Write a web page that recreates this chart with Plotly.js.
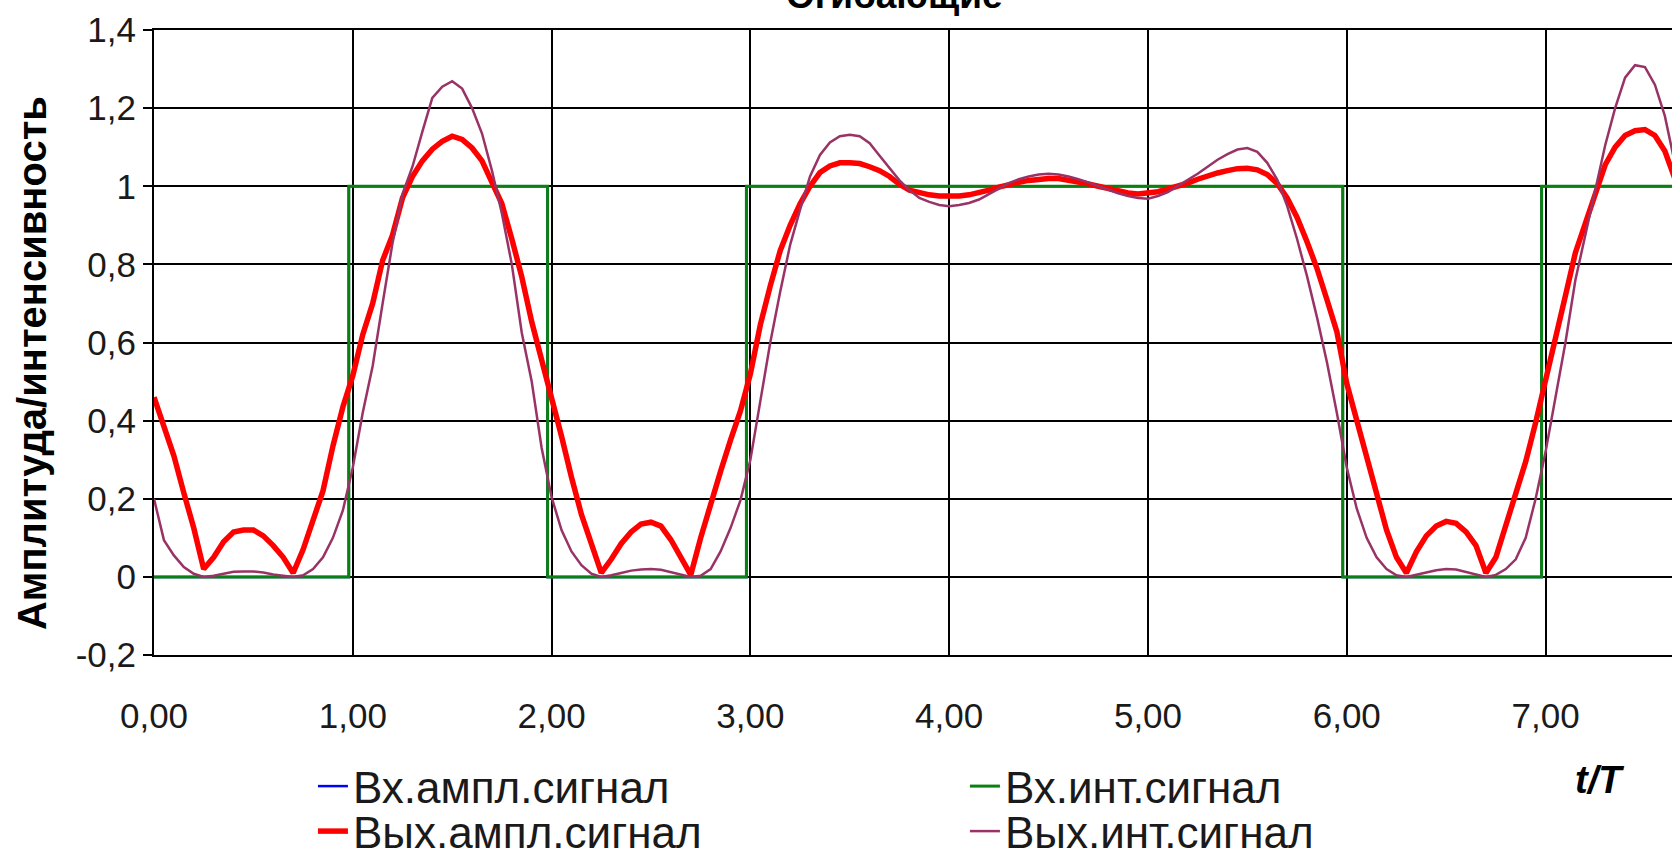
<!DOCTYPE html>
<html>
<head>
<meta charset="utf-8">
<script src="https://cdn.plot.ly/plotly-3.0.1.min.js"></script>
<style>
html,body{margin:0;padding:0;background:#fff;}
#chart{width:1672px;height:856px;}
</style>
</head>
<body>
<div id="chart"></div>
<script>
const chartTitle = 'Огибающие';
const yAxisTitle = 'Амплитуда/интенсивность';
const xAxisTitle = 't/T';
const seriesNames = ['Вх.ампл.сигнал', 'Вх.инт.сигнал', 'Вых.ампл.сигнал', 'Вых.инт.сигнал'];

const xTickVals = [0, 1, 2, 3, 4, 5, 6, 7];
const xTickText = ['0,00', '1,00', '2,00', '3,00', '4,00', '5,00', '6,00', '7,00'];
const yTickVals = [-0.2, 0, 0.2, 0.4, 0.6, 0.8, 1, 1.2, 1.4];
const yTickText = ['-0,2', '0', '0,2', '0,4', '0,6', '0,8', '1', '1,2', '1,4'];

// input square signal (step corners)
const inStepT = [0, 0.98, 0.98, 1.98, 1.98, 2.98, 2.98, 5.98, 5.98, 6.98, 6.98, 7.65];
const inAmp   = [0, 0, 1, 1, 0, 0, 1, 1, 0, 0, 1, 1];
const inInt   = [0, 0, 1, 1, 0, 0, 1, 1, 0, 0, 1, 1];

// output samples
const tSamples = [
 0.00,0.05,0.10,0.15,0.20,0.25,0.30,0.35,0.40,0.45,0.50,0.55,0.60,0.65,0.70,0.75,0.80,0.85,0.90,0.95,
 1.00,1.05,1.10,1.15,1.20,1.25,1.30,1.35,1.40,1.45,1.50,1.55,1.60,1.65,1.70,1.75,1.80,1.85,1.90,1.95,
 2.00,2.05,2.10,2.15,2.20,2.25,2.30,2.35,2.40,2.45,2.50,2.55,2.60,2.65,2.70,2.75,2.80,2.85,2.90,2.95,
 3.00,3.05,3.10,3.15,3.20,3.25,3.30,3.35,3.40,3.45,3.50,3.55,3.60,3.65,3.70,3.75,3.80,3.85,3.90,3.95,
 4.00,4.05,4.10,4.15,4.20,4.25,4.30,4.35,4.40,4.45,4.50,4.55,4.60,4.65,4.70,4.75,4.80,4.85,4.90,4.95,
 5.00,5.05,5.10,5.15,5.20,5.25,5.30,5.35,5.40,5.45,5.50,5.55,5.60,5.65,5.70,5.75,5.80,5.85,5.90,5.95,
 6.00,6.05,6.10,6.15,6.20,6.25,6.30,6.35,6.40,6.45,6.50,6.55,6.60,6.65,6.70,6.75,6.80,6.85,6.90,6.95,
 7.00,7.05,7.10,7.15,7.20,7.25,7.30,7.35,7.40,7.45,7.50,7.55,7.60,7.65
];
const outAmp = [
 0.46,0.38,0.31,0.215,0.125,0.02,0.05,0.09,0.115,0.12,0.12,0.105,0.08,0.05,0.01,0.07,0.14,0.22,0.335,0.435,
 0.515,0.62,0.70,0.81,0.875,0.97,1.025,1.065,1.095,1.115,1.128,1.12,1.098,1.065,1.01,0.955,0.865,0.768,0.653,0.555,
 0.47,0.36,0.255,0.16,0.085,0.01,0.045,0.085,0.115,0.135,0.14,0.13,0.095,0.05,0.005,0.10,0.19,0.27,0.35,0.425,
 0.52,0.645,0.745,0.835,0.90,0.955,1.00,1.035,1.052,1.06,1.06,1.058,1.05,1.04,1.025,1.005,0.99,0.983,0.978,0.975,
 0.974,0.975,0.978,0.983,0.99,0.998,1.005,1.01,1.015,1.018,1.02,1.02,1.016,1.011,1.006,1.0,0.994,0.988,0.983,0.98,
 0.982,0.986,0.993,1.0,1.008,1.018,1.027,1.034,1.04,1.045,1.046,1.042,1.03,1.007,0.97,0.92,0.858,0.79,0.71,0.628,
 0.495,0.40,0.30,0.21,0.12,0.05,0.01,0.064,0.105,0.13,0.142,0.137,0.115,0.08,0.01,0.05,0.13,0.21,0.295,0.395,
 0.50,0.612,0.72,0.83,0.905,0.99,1.055,1.10,1.13,1.142,1.145,1.13,1.09,1.02
];
const outInt = [
 0.20,0.094,0.055,0.025,0.008,0.0,0.003,0.008,0.013,0.014,0.014,0.011,0.006,0.003,0.0,0.004,0.02,0.05,0.10,0.17,
 0.28,0.42,0.54,0.70,0.855,0.98,1.05,1.14,1.226,1.255,1.269,1.25,1.20,1.135,1.04,0.93,0.80,0.625,0.50,0.33,
 0.204,0.12,0.065,0.03,0.008,0.0,0.004,0.01,0.016,0.019,0.02,0.018,0.012,0.005,0.0,0.003,0.02,0.065,0.125,0.196,
 0.30,0.45,0.60,0.73,0.85,0.94,1.025,1.08,1.112,1.128,1.132,1.128,1.11,1.078,1.045,1.015,0.99,0.97,0.96,0.952,
 0.949,0.952,0.957,0.966,0.98,0.995,1.008,1.018,1.025,1.03,1.032,1.03,1.025,1.018,1.01,1.0,0.99,0.982,0.975,0.97,
 0.968,0.975,0.985,1.0,1.015,1.032,1.05,1.068,1.082,1.094,1.098,1.088,1.06,1.017,0.95,0.865,0.77,0.665,0.55,0.42,
 0.28,0.175,0.10,0.05,0.02,0.004,0.0,0.005,0.011,0.017,0.02,0.019,0.013,0.006,0.0,0.005,0.02,0.045,0.10,0.20,
 0.32,0.46,0.60,0.76,0.875,0.985,1.105,1.20,1.278,1.31,1.305,1.26,1.18,1.06
];

const traces = [
  {x: inStepT, y: inAmp, name: seriesNames[0], type: 'scatter', mode: 'lines', legend: 'legend',
   line: {color: '#0000ff', width: 2.5}},
  {x: inStepT, y: inInt, name: seriesNames[1], type: 'scatter', mode: 'lines', legend: 'legend',
   line: {color: '#0a8010', width: 3}},
  {x: tSamples, y: outAmp, name: seriesNames[2], type: 'scatter', mode: 'lines', legend: 'legend2',
   line: {color: '#ff0000', width: 5.5}},
  {x: tSamples, y: outInt, name: seriesNames[3], type: 'scatter', mode: 'lines', legend: 'legend2',
   line: {color: '#993366', width: 2.5}}
];

const fontFam = 'Liberation Sans, Arial, sans-serif';
const legendFont = {family: fontFam, size: 44, color: '#1a1a1a'};

function legendBox(yPos) {
  return {
    orientation: 'h', x: 0.1047, xanchor: 'left', y: yPos, yanchor: 'top',
    entrywidth: 607, entrywidthmode: 'pixels', traceorder: 'normal',
    bgcolor: 'rgba(0,0,0,0)', borderwidth: 0, font: legendFont
  };
}

const layout = {
  width: 1672, height: 856,
  margin: {l: 154, r: 0, t: 30, b: 201, pad: 0, autoexpand: false},
  paper_bgcolor: '#ffffff', plot_bgcolor: '#ffffff',
  font: {family: fontFam, size: 34, color: '#1a1a1a'},
  showlegend: true,
  xaxis: {
    range: [0, 7.636], tickvals: xTickVals, ticktext: xTickText,
    showgrid: true, gridcolor: '#000000', gridwidth: 2,
    showline: true, linecolor: '#000000', linewidth: 2, mirror: true,
    ticks: 'outside', ticklen: 29, tickcolor: 'rgba(0,0,0,0)',
    zeroline: false, tickfont: {family: fontFam, size: 35, color: '#1a1a1a'},
    fixedrange: true
  },
  yaxis: {
    range: [-0.2, 1.4], tickvals: yTickVals, ticktext: yTickText,
    showgrid: true, gridcolor: '#000000', gridwidth: 2,
    showline: true, linecolor: '#000000', linewidth: 2,
    ticks: 'outside', ticklen: 9, tickwidth: 2, tickcolor: '#000000',
    zeroline: false, tickfont: {family: fontFam, size: 35, color: '#1a1a1a'},
    fixedrange: true
  },
  legend: legendBox(-0.1536),
  legend2: legendBox(-0.2256),
  annotations: [
    {text: '<b>' + chartTitle + '</b>', xref: 'paper', yref: 'paper', x: 0.488, y: 1.055,
     xanchor: 'center', yanchor: 'middle', showarrow: false,
     font: {family: fontFam, size: 37, color: '#000000'}},
    {text: '<b>' + yAxisTitle + '</b>', xref: 'paper', yref: 'paper', x: -0.0804, y: 0.467,
     xanchor: 'center', yanchor: 'middle', textangle: -90, showarrow: false,
     font: {family: fontFam, size: 40, color: '#000000'}},
    {text: '<b><i>' + xAxisTitle + '</i></b>', xref: 'paper', yref: 'paper', x: 0.952, y: -0.2,
     xanchor: 'center', yanchor: 'middle', showarrow: false,
     font: {family: fontFam, size: 38, color: '#000000'}}
  ]
};

Plotly.newPlot('chart', traces, layout, {displayModeBar: false, staticPlot: true});
</script>
</body>
</html>
